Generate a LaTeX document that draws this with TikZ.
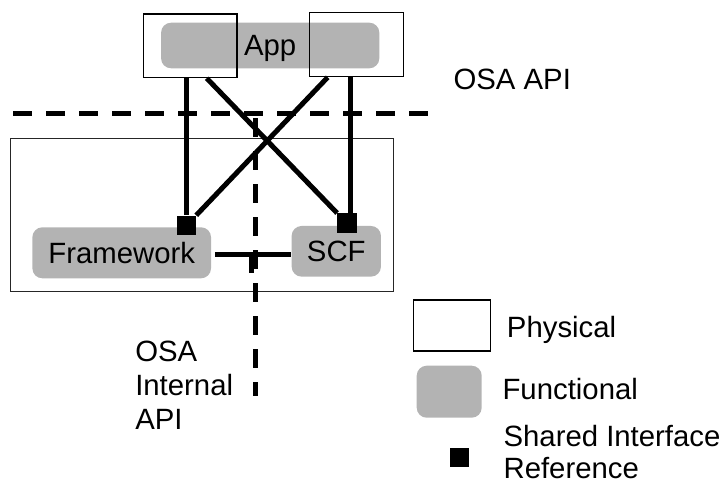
\documentclass[tikz,border=0pt]{standalone}
\usepackage{fontspec}
\setmainfont{Liberation Sans}
\usetikzlibrary{calc}
\definecolor{funcgray}{RGB}{179,179,179}
\begin{document}
\begin{tikzpicture}[x=0.75pt,y=-0.75pt,
  phys/.style={draw=black,line width=0.9pt,inner sep=0,fill=none},
  func/.style={fill=funcgray,rounded corners=7.5pt,inner sep=0,text depth=0pt,font=\fontsize{22}{25.5}\selectfont},
  sqr/.style={fill=black,minimum size=14.5pt,inner sep=0},
  conn/.style={line width=3.75pt},
  api/.style={line width=3.75pt,dash pattern=on 14.25pt off 10.5pt},
  lbl/.style={font=\fontsize{22}{25.5}\selectfont,inner sep=0}]
\useasboundingbox (0,0) rectangle (727,485);
% system box
\node[draw=black!85,line width=0.8pt,inner sep=0,minimum width=287pt,minimum height=115pt] (sys) at (202,215.1) {};
% functional blocks
\node[func,minimum width=163.7pt,minimum height=34.2pt] (app) at (270.2,45.5) {App};
\node[func,minimum width=134pt,minimum height=38.25pt] (fw) at (121.7,252.8) {Framework};
\node[func,minimum width=67pt,minimum height=38pt] (scf) at (336.3,251.3) {SCF};
% physical boxes
\node[phys,minimum width=70.3pt,minimum height=47.8pt] (appL) at (190.2,45.8) {};
\node[phys,minimum width=70.5pt,minimum height=48pt] (appR) at (356.3,44.7) {};
% interface squares
\node[sqr] (fwsq) at (186.3,225.2) {};
\node[sqr] (scfsq) at (347,223) {};
% connectors
\draw[conn] (fwsq.center |- appL.south) -- (fwsq.north);
\draw[conn] ([xshift=2.25pt]scfsq.center |- appR.south) -- ([xshift=2.25pt]scfsq.north);
\draw[conn] ([xshift=12.4pt]appL.south) -- (scfsq.north west);
\draw[conn] ([xshift=-21.45pt]appR.south) -- (fwsq.north east);
\draw[conn] ([xshift=3pt,yshift=-1.6pt]fw.east) -- ([yshift=-1.6pt]fw.east -| scf.west);
\coordinate (tk) at ($([yshift=-1.6pt]fw.east)!0.5!([yshift=-1.6pt]fw.east -| scf.west)$);
\draw[line width=3.75pt] (tk) -- ++(0,18);
% API lines
\coordinate (hA) at (13.3,113);
\coordinate (hB) at (433,113);
\draw[api] (hA) -- (hB);
\coordinate (vA) at (255,118);
\coordinate (vB) at (255,396);
\draw[api] (vA) -- (vB);
% labels
\node[lbl,anchor=base west] (osaapi) at (453.3,89.3) {OSA API};
\node[lbl,anchor=north west,align=left] (osaint) at (135,341) {OSA\\Internal\\API};
% legend
\node[phys,minimum width=58pt,minimum height=38.25pt] (legP) at (452,325.5) {};
\node[func,minimum width=48.75pt,minimum height=39pt] (legF) at (449.2,391.7) {};
\node[sqr] (legS) at (459.7,457.2) {};
\node[lbl,anchor=base west] (tP) at (506.7,337.7) {Physical};
\node[lbl,anchor=base west] (tF) at (502.3,399.3) {Functional};
\node[lbl,anchor=base west] (tS1) at (503.3,446) {Shared Interface};
\node[lbl,anchor=base west] (tS2) at (503.3,478) {Reference};
\end{tikzpicture}
\end{document}
